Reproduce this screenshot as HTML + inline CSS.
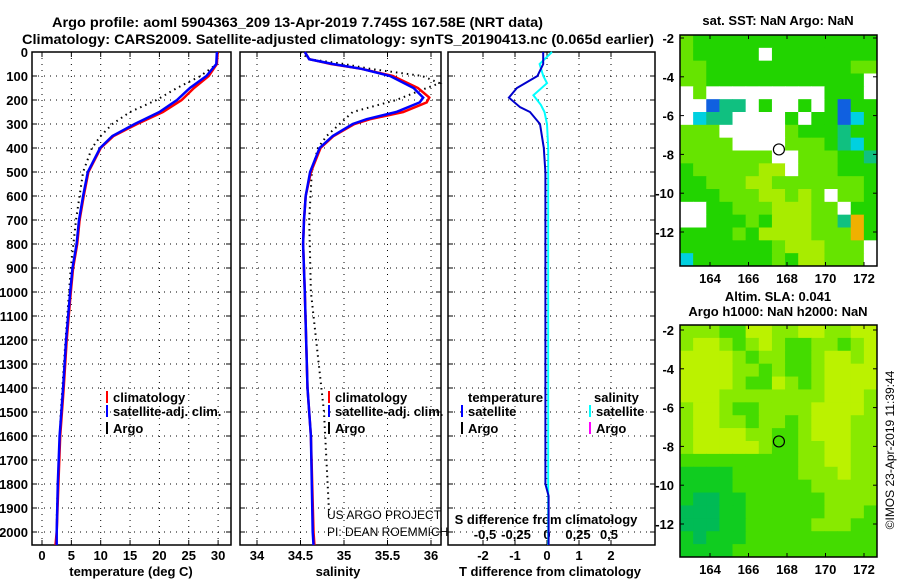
<!DOCTYPE html>
<html><head><meta charset="utf-8"><style>
body{margin:0;background:#fff;}
svg{display:block;font-family:"Liberation Sans",sans-serif;}
.b{font-weight:bold;font-size:13px;}
</style></head><body>
<svg id="s" width="900" height="580" xmlns="http://www.w3.org/2000/svg">
<text class="b" x="52" y="27" textLength="491" lengthAdjust="spacingAndGlyphs" style="font-size:14px">Argo profile: aoml 5904363_209 13-Apr-2019 7.745S 167.58E (NRT data)</text>
<text class="b" x="22" y="44" textLength="632" lengthAdjust="spacingAndGlyphs" style="font-size:14px">Climatology: CARS2009. Satellite-adjusted climatology: synTS_20190413.nc (0.065d earlier)</text>
<g id="g"></g>
</svg>
<script>
// ---- data ----
const depthT=[0,50,100,150,200,250,300,350,400,500,600,700,800,900,1000,1200,1400,1600,1800,2000,2054];
const tempSat=[29.8,29.7,28,25.2,23,20,15.8,12,9.9,7.8,7,6.3,5.9,5.2,4.8,4.1,3.6,3.0,2.7,2.5,2.5];
const tempClim=[29.9,29.8,28.4,25.9,23.8,20.6,16.2,12.2,10,7.9,7.1,6.4,6,5.3,4.9,4.2,3.7,3.1,2.8,2.5,2.3];
const depthArgoT=[0,50,100,150,200,250,300,350,400,500,700,900,1200,1500,1800,1950];
const tempArgo=[30,29.8,27,23,19.5,15,12,10,8.5,7,5.8,4.9,4,3.2,2.7,2.5];
const depthS=[0,30,50,70,100,150,190,210,250,280,300,350,400,500,600,700,800,1000,1400,1600,2000,2054];
const salSat=[34.55,34.6,34.87,35.2,35.53,35.8,35.91,35.87,35.6,35.26,35.1,34.87,34.72,34.61,34.56,34.54,34.53,34.55,34.58,34.62,34.64,34.65];
const salClim=[34.55,34.6,34.85,35.2,35.56,35.85,35.98,35.95,35.68,35.3,35.12,34.88,34.73,34.62,34.56,34.54,34.53,34.55,34.58,34.62,34.65,34.66];
const depthArgoS=[0,30,50,70,100,130,150,200,250,300,350,400,500,700,1000,1500,1930];
const salArgo=[34.5,34.6,35.0,35.3,35.9,36.1,35.95,35.6,35.1,34.95,34.8,34.7,34.63,34.6,34.62,34.77,34.83];
const depthD=[0,50,100,150,190,230,250,300,400,500,1000,1800,1850,2000,2054];
const tDiffSat=[-0.12,-0.12,-0.3,-0.94,-1.19,-0.84,-0.53,-0.22,-0.1,-0.05,-0.05,-0.05,0.05,0.05,0.05];
const depthSD=[0,50,100,130,180,220,250,300,400,1000,2054];
const sDiffSat=[0.04,-0.06,-0.03,0.0,-0.11,-0.05,-0.02,0.0,0.01,0.01,0.01];
const depthTicks=[0,100,200,300,400,500,600,700,800,900,1000,1100,1200,1300,1400,1500,1600,1700,1800,1900,2000];
const tTicks=[0,5,10,15,20,25,30];
const sTicks=[34,34.5,35,35.5,36];
const dTTicks=[-2,-1,0,1,2];
const dSTicks=[-0.5,-0.25,0,0.25,0.5];
const lonTicks=[164,166,168,170,172];
const latTicks=[-2,-4,-6,-8,-10,-12];
const sstGrid=["lgggggggggggggg","lgggggwgggggggg","llgggggggggggll","llggggggggggggw","wlwwwwwwwwwgggw","wwbttwgwwgwgbgg","wcttwwwwgwggbcg","lllwwwwwlgggtgg","llllwwwwlllgtcg","lllllllwwlllggt","glllllyywlllggg","gglllyylllllllg","ggglllyylylwllg","wwgglllyyyllwgg","wwggglgyyylltog","gggglgyyyylllog","ggggggglyyylllw","cgggggglgyylllw"];
const slaGrid=["LLLGGYYLLYYLLYY","LYYLGLYLGGLLGLY","YYYYLGLLGGLYYLY","YYYYLLGLGGLYYYY","YYYYLGGYLGLYYYY","YYYLLLLLLLLYYYL","LYYLGGLLLLYYYYL","LYYLLGLLGLYYYLL","LYYYYLLGGLYYYLL","LYYYYYLGGLLYYLL","GGGGGGGGGLLYYLL","DDDDGGGGGLLLYLL","DDDDGGGGGGLLLLL","DTTDDGGGGGGLLLL","TTTDDGGGGGGLLLG","TTTDDGGGGGLLLGG","DTDDDGGGGGGGGGG","DDDDGGGGGGGGGGG"];
const argoLon=167.58, argoLat=-7.745;
// ---- drawing ----
const NS="http://www.w3.org/2000/svg", G=document.getElementById('g');
function mk(t,a,txt){const e=document.createElementNS(NS,t);for(const k in a)e.setAttribute(k,a[k]);if(txt!==undefined)e.textContent=txt;G.appendChild(e);return e;}
const Y0=52,Y1=545;const yD=d=>Y0+d*0.24;
const P=[{x0:32,x1:231,f:v=>42+v*5.87},{x0:240,x1:441,f:v=>257+(v-34)*87},{x0:448,x1:655,f:v=>547+v*32}];
const fS=v=>547+v*124;
P.forEach((p,i)=>{
  const r=mk('rect',{x:p.x0,y:Y0,width:p.x1-p.x0,height:Y1-Y0,fill:'none',stroke:'#000','stroke-width':1.5});
  
  depthTicks.forEach(d=>{const y=yD(d);
    const l=mk('line',{x1:p.x0,x2:p.x1,y1:y,y2:y,stroke:'#000','stroke-dasharray':'1 5'});
    
    mk('line',{x1:p.x0,x2:p.x0+5,y1:y,y2:y,stroke:'#000'});mk('line',{x1:p.x1-5,x2:p.x1,y1:y,y2:y,stroke:'#000'});
  });
});
depthTicks.forEach(d=>{const t=mk('text',{x:28,y:yD(d)+5,'text-anchor':'end',class:'b'},String(d));
  });
function xticks(p,ticks,f,ly,lab){ticks.forEach(v=>{const x=f(v);
  const l=mk('line',{x1:x,x2:x,y1:Y0,y2:Y1,stroke:'#000','stroke-dasharray':'1 5'});
  
  mk('line',{x1:x,x2:x,y1:Y1-5,y2:Y1,stroke:'#000'});mk('line',{x1:x,x2:x,y1:Y0,y2:Y0+5,stroke:'#000'});
  if(lab){const t=mk('text',{x:x,y:ly,'text-anchor':'middle',class:'b'},String(v).replace('0.','0.').replace(/^(-?)0\./,'$1.').replace(/^(-?)\./,'$10.'));
  }});}
xticks(P[0],tTicks,P[0].f,560,true);
xticks(P[1],sTicks,P[1].f,560,true);
xticks(P[2],dTTicks,P[2].f,560,true);
dSTicks.forEach(v=>{const t=mk('text',{x:fS(v),y:539,'text-anchor':'middle',class:'b'},v===0?'0':String(v).replace('0.','0,').replace('-0,','-0,'));
  });
[[131,'temperature (deg C)','x-axis-title-temperature'],[338,'salinity','x-axis-title-salinity'],[550,'T difference from climatology','x-axis-title-t-diff']].forEach(a=>{
  const t=mk('text',{x:a[0],y:576,'text-anchor':'middle',class:'b'},a[1]);});
const st=mk('text',{x:546,y:524,'text-anchor':'middle',class:'b'},'S difference from climatology');

function line(xs,ds,f,col,w,dash,name){const pts=xs.map((v,i)=>f(v).toFixed(1)+','+yD(ds[i]).toFixed(1)).join(' ');
  const a={points:pts,fill:'none',stroke:col,'stroke-width':w};if(dash)a['stroke-dasharray']=dash;
  const e=mk('polyline',a);}
G.appendChild(Object.assign(document.createElementNS(NS,'clipPath'),{id:'c'}));
line(tempArgo,depthArgoT,P[0].f,'#000',2,'1.5 4','temp-argo-line');
line(tempClim,depthT,P[0].f,'#f00',2.5,null,'temp-climatology-line');
line(tempSat,depthT,P[0].f,'#00f',2.5,null,'temp-satellite-line');
line(salArgo.map(v=>Math.min(v,36.1)),depthArgoS,P[1].f,'#000',2,'1.5 4','sal-argo-line');
line(salClim,depthS,P[1].f,'#f00',2.5,null,'sal-climatology-line');
line(salSat,depthS,P[1].f,'#00f',2.5,null,'sal-satellite-line');
line(sDiffSat,depthSD,fS,'#0ff',2,null,'s-diff-satellite-line');
line(tDiffSat,depthD,P[2].f,'#00c',2,null,'t-diff-satellite-line');
function leg(x,y,col,txt,name){const r=mk('rect',{x:x,y:y-11,width:2,height:12,fill:col});
  const t=mk('text',{x:x+7,y:y,class:'b'},txt);
  }
leg(106,402,'#f00','climatology','legend-temp-climatology');leg(106,416,'#00f','satellite-adj. clim.','legend-temp-satellite');leg(106,433,'#000','Argo','legend-temp-argo');
leg(328,402,'#f00','climatology','legend-sal-climatology');leg(328,416,'#00f','satellite-adj. clim.','legend-sal-satellite');leg(328,433,'#000','Argo','legend-sal-argo');
const lt=mk('text',{x:468,y:402,class:'b'},'temperature');
const ls=mk('text',{x:594,y:402,class:'b'},'salinity');
leg(461,416,'#00f','satellite','legend-diff-temp-satellite');leg(461,433,'#000','Argo','legend-diff-temp-argo');
leg(589,416,'#0ff','satellite','legend-diff-sal-satellite');leg(589,433,'#f0f','Argo','legend-diff-sal-argo');
const u1=mk('text',{x:327,y:519,'font-size':'12'},'US ARGO PROJECT');
const u2=mk('text',{x:327,y:536,'font-size':'12'},'PI: DEAN ROEMMICH');
// maps
const cmapA={w:'#fff',g:'#22d400',l:'#66e400',y:'#a8ec00',b:'#1060e0',c:'#00d0e0',t:'#10c080',o:'#f0b000'};
const cmapB={Y:'#bbf200',L:'#88ea00',G:'#44dc00',D:'#10cc20',T:'#00bb55'};
function map(x0,y0,y1,lat2y0,grid,cmap,title,name){
  const X1=877,w=(X1-x0)/grid[0].length,h=(y1-y0)/grid.length;
  grid.forEach((row,r)=>{[...row].forEach((ch,c)=>{const e=mk('rect',{x:x0+c*w,y:y0+r*h,width:w+0.5,height:h+0.5,fill:cmap[ch]});
    });});
  const fr=mk('rect',{x:x0,y:y0,width:X1-x0,height:y1-y0,fill:'none',stroke:'#000','stroke-width':1.5});
  
  const fx=v=>710+(v-164)*19.25,fy=v=>lat2y0+(-2-v)*19.4;
  lonTicks.forEach(v=>{mk('line',{x1:fx(v),x2:fx(v),y1:y1-4,y2:y1,stroke:'#000'});mk('line',{x1:fx(v),x2:fx(v),y1:y0,y2:y0+4,stroke:'#000'});
    const t=mk('text',{x:fx(v),y:y1+17,'text-anchor':'middle',class:'b'},String(v));});
  latTicks.forEach(v=>{mk('line',{x1:x0,x2:x0+4,y1:fy(v),y2:fy(v),stroke:'#000'});mk('line',{x1:X1-4,x2:X1,y1:fy(v),y2:fy(v),stroke:'#000'});
    const t=mk('text',{x:674,y:fy(v)+5,'text-anchor':'end',class:'b'},String(v));});
  const c=mk('circle',{cx:fx(argoLon),cy:fy(argoLat),r:5.5,fill:'none',stroke:'#000','stroke-width':1.2});
  
  title.forEach((tt,i)=>{const t=mk('text',{x:778,y:tt[1],'text-anchor':'middle',class:'b','font-size':'12'},tt[0]);});
}
map(680,35,266,38,sstGrid,cmapA,[['sat. SST: NaN Argo: NaN',25]],'sst-map');
map(680,325,557,330,slaGrid,cmapB,[['Altim. SLA: 0.041',301],['Argo h1000: NaN h2000: NaN',316]],'sla-map');
const im=mk('text',{x:0,y:0,'font-size':'12',transform:'translate(894,450) rotate(-90)','text-anchor':'middle'},'©IMOS 23-Apr-2019 11:39:44');

</script>
</body></html>
